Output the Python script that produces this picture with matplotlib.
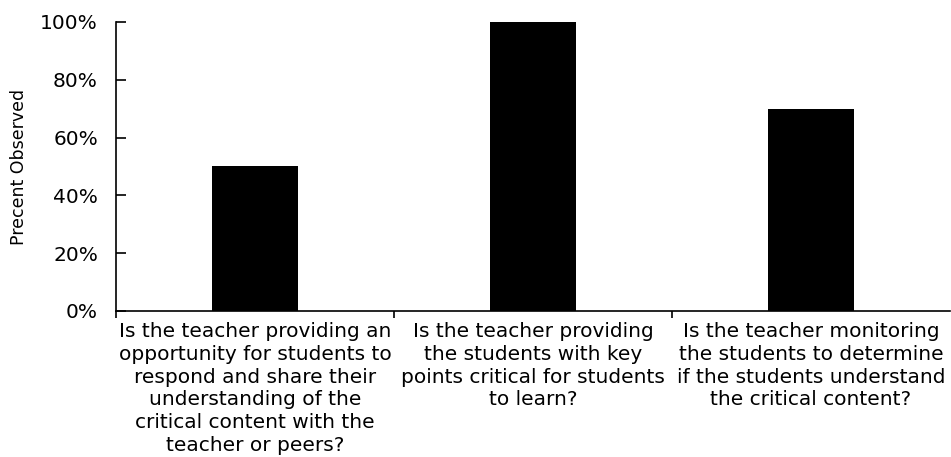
import matplotlib.pyplot as plt
from matplotlib.ticker import PercentFormatter
import numpy as np

categories = [
    "Is the teacher providing an\nopportunity for students to\nrespond and share their\nunderstanding of the\ncritical content with the\nteacher or peers?",
    "Is the teacher providing\nthe students with key\npoints critical for students\nto learn?",
    "Is the teacher monitoring\nthe students to determine\nif the students understand\nthe critical content?",
]
percent_observed = [50, 100, 70]
y_ticks = [0, 20, 40, 60, 80, 100]

plt.rcParams['font.family'] = ['DejaVu Sans']

fig = plt.figure(figsize=(9.51, 4.57), dpi=100)
ax = fig.add_axes([0.122, 0.3195, 0.877, 0.6325])

x = np.arange(len(categories))
ax.bar(x, percent_observed, width=0.31, color='black')

ax.set_xlim(-0.5, len(categories) - 0.5)
ax.set_ylim(0, 100)
ax.set_yticks(y_ticks)
ax.yaxis.set_major_formatter(PercentFormatter(decimals=0))
ax.tick_params(axis='y', direction='in', length=7, width=1.2, labelsize=14.5, pad=13)

# category boundaries as major ticks, labels on minor ticks at centres
ax.set_xticks(np.arange(len(categories)) - 0.5)
ax.set_xticklabels([])
ax.set_xticks(x, minor=True)
ax.set_xticklabels(categories, minor=True, fontsize=14.5, linespacing=1.25)
ax.tick_params(axis='x', which='major', direction='out', length=5, width=1.2)
ax.tick_params(axis='x', which='minor', length=0, pad=8)

for side in ['top', 'right']:
    ax.spines[side].set_visible(False)
ax.spines['left'].set_linewidth(1.2)
ax.spines['bottom'].set_linewidth(1.2)

ax.set_ylabel('Precent Observed', fontsize=12.5, labelpad=9)

fig.savefig('out.png', dpi=100)
